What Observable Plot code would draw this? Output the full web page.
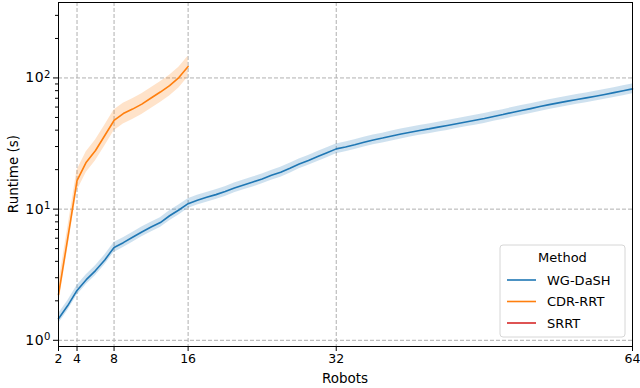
<!DOCTYPE html>
<html><head><meta charset="utf-8">
<script src="https://cdn.jsdelivr.net/npm/d3@7"></script>
<script src="https://cdn.jsdelivr.net/npm/@observablehq/plot@0.6"></script>
<style>
body{margin:0;background:#fff;}
#chart svg{font-family:"DejaVu Sans",sans-serif;}
</style>
</head><body><div id="chart"></div>
<script>
// ---------- data ----------
const methods = ["WG-DaSH", "CDR-RRT", "SRRT"];
const methodColors = ["#1f77b4", "#ff7f0e", "#d62728"];
const methodSpread = [1.09, 1.2, 1.1]; // multiplicative half-width of the shaded band

const wgRobots = [2,3,4,5,6,7,8,9,10,11,12,13,14,15,16,17,18,19,20,21,22,23,24,25,26,27,28,29,30,31,32,33,34,35,36,37,38,39,40,41,42,43,44,45,46,47,48,49,50,51,52,53,54,55,56,57,58,59,60,61,62,63,64];
const wgRuntime = [1.46,1.84,2.40,2.90,3.40,4.10,5.10,5.55,6.10,6.70,7.30,7.90,8.90,9.85,11.0,11.7,12.3,12.9,13.6,14.5,15.3,16.1,17.0,18.1,19.1,20.5,22.1,23.5,25.2,26.9,28.8,29.8,31.0,32.4,33.7,34.8,36.1,37.4,38.6,39.8,40.9,42.2,43.4,44.8,46.2,47.6,49.1,50.9,52.6,54.6,56.5,58.4,60.5,62.6,64.6,66.6,68.6,70.5,72.6,74.9,77.3,79.9,82.6];

const cdrRobots = [2,3,4,5,6,7,8,9,10,11,12,13,14,15,16];
const cdrRuntime = [2.23,6.0,16.5,22.8,28.0,36.4,47.4,53.5,57.9,63.2,70.3,78.1,87.5,100.7,122.2];

const srrtRobots = [];
const srrtRuntime = [];

const xTicks = [2, 4, 8, 16, 32, 64];
const yTicks = [1, 10, 100];
const yMinorTicks = [2,3,4,5,6,7,8,9,20,30,40,50,60,70,80,90,200,300];
const xLabel = "Robots";
const yLabel = "Runtime (s)";
const legendTitle = "Method";

// ---------- table ----------
const rows = [];
[[wgRobots, wgRuntime], [cdrRobots, cdrRuntime], [srrtRobots, srrtRuntime]].forEach(([xs, ys], i) => {
  xs.forEach((x, j) => rows.push({
    method: methods[i], robots: x, runtime: ys[j],
    lo: ys[j] / methodSpread[i], hi: ys[j] * methodSpread[i]
  }));
});

const gridStyle = {stroke: "#b0b0b0", strokeOpacity: 1, strokeWidth: 1, strokeDasharray: "4,2"};

const W = 640, H = 388, mL = 58, mR = 8, mT = 2, mB = 42;

const chart = Plot.plot({
  width: W,
  height: H,
  marginLeft: mL,
  marginRight: mR,
  marginTop: mT,
  marginBottom: mB,
  style: {fontSize: "12.5px", fontFamily: "DejaVu Sans, sans-serif", background: "#fff", color: "#000"},
  x: {type: "linear", domain: [2, 64]},
  y: {type: "log", domain: [0.897, 376]},
  color: {domain: methods, range: methodColors},
  marks: [
    Plot.gridX(xTicks, gridStyle),
    Plot.gridY(yTicks, gridStyle),
    Plot.areaY(rows, {x: "robots", y1: "lo", y2: "hi", fill: "method", fillOpacity: 0.22, z: "method"}),
    Plot.line(rows, {x: "robots", y: "runtime", stroke: "method", z: "method", strokeWidth: 1.6}),
    Plot.axisY(yMinorTicks, {tickSize: 3, tickFormat: () => "", label: null, stroke: "#000"}),
    Plot.axisY(yTicks, {tickSize: 5, tickPadding: 3, label: null,
      tickFormat: d => "10|" + Math.round(Math.log10(d)), stroke: "#000"}),
    Plot.axisX(xTicks, {tickSize: 5, tickPadding: 3, label: null, stroke: "#000"}),
    Plot.frame({stroke: "#000", strokeWidth: 1})
  ]
});

const svg = d3.select(chart);
// superscripts on log tick labels
svg.selectAll("text").each(function () {
  const t = d3.select(this);
  const s = t.text();
  if (/^10\|\d+$/.test(s)) {
    const exp = s.split("|")[1];
    t.text("").attr("font-size", 14);
    t.append("tspan").attr("letter-spacing", "0.5px").text("10");
    t.append("tspan").attr("dy", "-0.45em").attr("font-size", "0.72em").text(exp);
  }
});

// axis labels
svg.append("text").attr("x", (mL + W - mR) / 2).attr("y", 378).attr("dy", "0.35em")
  .attr("text-anchor", "middle").attr("font-size", 13.5).text(xLabel);
svg.append("text").attr("transform", `translate(13,${(mT + H - mB) / 2}) rotate(-90)`).attr("dy", "0.35em")
  .attr("text-anchor", "middle").attr("font-size", 13.5).text(yLabel);

// legend (matplotlib style, lower right)
const lx = 500, ly = 245, lw = 125, lh = 92;
const lg = svg.append("g").attr("font-size", 13).attr("text-anchor", "start");
lg.append("rect").attr("x", lx).attr("y", ly).attr("width", lw).attr("height", lh)
  .attr("rx", 3).attr("fill", "#fff").attr("fill-opacity", 0.85).attr("stroke", "#d6d6d6");
lg.append("text").attr("x", lx + lw / 2).attr("y", ly + 12).attr("dy", "0.35em")
  .attr("text-anchor", "middle").text(legendTitle);
methods.forEach((m, i) => {
  const yy = ly + 35 + i * 21.5;
  lg.append("line").attr("x1", lx + 7).attr("x2", lx + 36).attr("y1", yy).attr("y2", yy)
    .attr("stroke", methodColors[i]).attr("stroke-width", 1.6);
  lg.append("text").attr("x", lx + 47).attr("y", yy).attr("dy", "0.35em").attr("text-anchor", "start").text(m);
});

document.getElementById("chart").appendChild(chart);
</script>
</body></html>
